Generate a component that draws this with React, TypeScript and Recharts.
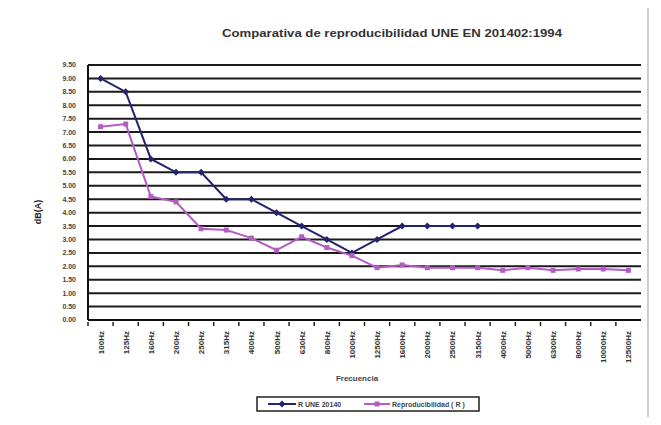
import { LineChart, Line, XAxis, YAxis, CartesianGrid } from 'recharts';

const FRECUENCIAS = [
  '100Hz', '125Hz', '160Hz', '200Hz', '250Hz', '315Hz', '400Hz', '500Hz', '630Hz', '800Hz', '1000Hz',
  '1250Hz', '1600Hz', '2000Hz', '2500Hz', '3150Hz', '4000Hz', '5000Hz', '6300Hz', '8000Hz', '10000Hz', '12500Hz',
];
const R_UNE = [9.0, 8.5, 6.0, 5.5, 5.5, 4.5, 4.5, 4.0, 3.5, 3.0, 2.5, 3.0, 3.5, 3.5, 3.5, 3.5, null, null, null, null, null, null];
const REPRODUCIBILIDAD = [7.2, 7.3, 4.6, 4.4, 3.4, 3.35, 3.05, 2.6, 3.1, 2.7, 2.4, 1.95, 2.05, 1.95, 1.95, 1.95, 1.85, 1.95, 1.85, 1.9, 1.9, 1.85];
const Y_TICKS = [0, 0.5, 1, 1.5, 2, 2.5, 3, 3.5, 4, 4.5, 5, 5.5, 6, 6.5, 7, 7.5, 8, 8.5, 9, 9.5];

const data = FRECUENCIAS.map((f, i) => ({ f, une: R_UNE[i], rep: REPRODUCIBILIDAD[i] }));

const AZUL = '#23236e';
const MAGENTA = '#b45cc4';
const FONT = '"Liberation Sans", Arial, sans-serif';
// half of one category band (553px / 22)
const HALF_BAND = 12.57;

function Diamond(props: any) {
  const { cx, cy, index } = props;
  if (cx == null || cy == null) return <g key={index} />;
  return <polygon key={index} points={`${cx},${cy - 3.5} ${cx + 3.5},${cy} ${cx},${cy + 3.5} ${cx - 3.5},${cy}`} fill={AZUL} />;
}

function Square(props: any) {
  const { cx, cy, index } = props;
  if (cx == null || cy == null) return <g key={index} />;
  return <rect key={index} x={cx - 2.5} y={cy - 2.5} width={5} height={5} fill={MAGENTA} />;
}

function FreqTick(props: any) {
  const { x, y, payload } = props;
  return (
    <g>
      <line x1={x - HALF_BAND} x2={x - HALF_BAND} y1={y} y2={y + 4} stroke="#222" strokeWidth={1.5} />
      <text
        transform={`translate(${x + 3},${y + 9}) rotate(-90)`}
        textAnchor="end"
        fontSize={8}
        fontWeight="bold"
        fill="#333"
        fontFamily={FONT}
      >
        {payload.value}
      </text>
    </g>
  );
}

export default function App() {
  return (
    <div style={{ position: 'relative', width: 661, height: 425, margin: -8, background: '#fff', fontFamily: FONT }}>
      <LineChart width={661} height={425} data={data} margin={{ top: 65, right: 20, left: 0, bottom: 0 }}>
        <CartesianGrid vertical={false} stroke="#1a1a1a" strokeWidth={2} />
        <XAxis
          dataKey="f"
          height={105}
          interval={0}
          padding={{ left: HALF_BAND, right: HALF_BAND }}
          tick={<FreqTick />}
          tickLine={false}
          tickSize={0}
          axisLine={{ stroke: '#111', strokeWidth: 2 }}
        />
        <YAxis
          width={88}
          domain={[0, 9.5]}
          ticks={Y_TICKS}
          interval={0}
          tickFormatter={(v: number) => v.toFixed(2)}
          tick={{ fontSize: 7, fontWeight: 'bold', fill: '#444', fontFamily: FONT }}
          tickLine={false}
          tickMargin={6}
          axisLine={{ stroke: '#111', strokeWidth: 2 }}
        />
        <Line
          type="linear"
          dataKey="une"
          stroke={AZUL}
          strokeWidth={2}
          dot={<Diamond />}
          isAnimationActive={false}
        />
        <Line
          type="linear"
          dataKey="rep"
          stroke={MAGENTA}
          strokeWidth={2}
          dot={<Square />}
          isAnimationActive={false}
        />
      </LineChart>
      <svg width={661} height={425} style={{ position: 'absolute', left: 0, top: 0, pointerEvents: 'none' }}>
        <text x={392} y={37} textAnchor="middle" fontSize={11} fontWeight="bold" fill="#333" textLength={340} lengthAdjust="spacingAndGlyphs">
          Comparativa de reproducibilidad UNE EN 201402:1994
        </text>
        <text transform="translate(41,212) rotate(-90)" textAnchor="middle" fontSize={9} fontWeight="bold" fill="#222">
          dB(A)
        </text>
        <text x={357} y={381} textAnchor="middle" fontSize={8} fontWeight="bold" fill="#444">
          Frecuencia
        </text>
        <line x1={648} x2={648} y1={0} y2={425} stroke="#999" strokeWidth={1} />
        <rect x={257} y={397} width={222} height={14} fill="#fff" stroke="#222" strokeWidth={1.5} />
        <line x1={268} x2={296} y1={404} y2={404} stroke={AZUL} strokeWidth={2} />
        <polygon points="282,400.5 285.5,404 282,407.5 278.5,404" fill={AZUL} />
        <text x={298} y={407} fontSize={7} fontWeight="bold" fill="#444">R UNE 20140</text>
        <line x1={364} x2={390} y1={404} y2={404} stroke={MAGENTA} strokeWidth={2} />
        <rect x={374.5} y={401.5} width={5} height={5} fill={MAGENTA} />
        <text x={392} y={407} fontSize={7} fontWeight="bold" fill="#444">Reproducibilidad ( R )</text>
      </svg>
    </div>
  );
}
